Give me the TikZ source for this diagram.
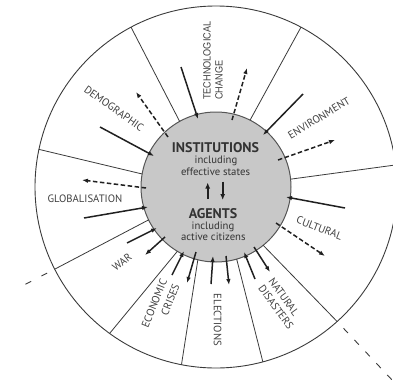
\documentclass[tikz,border=0pt]{standalone}
\usepackage{fontspec}
\setmainfont{PT Sans}
\newfontfamily\helvnarrow[FakeStretch=0.87]{Liberation Sans}
\usetikzlibrary{arrows.meta}
\definecolor{linegray}{HTML}{3A3A3A}
\definecolor{arrowgray}{HTML}{202020}
\definecolor{coregray}{HTML}{C8C8C8}
\definecolor{coreedge}{HTML}{555555}
\definecolor{labelgray}{HTML}{404040}
\definecolor{textgray}{HTML}{333333}
\begin{document}
\begin{tikzpicture}[x=1pt,y=1pt,
  ring/.style={circle, draw=linegray, line width=0.9pt, inner sep=0pt, outer sep=0pt},
  spoke/.style={draw=linegray, line width=0.8pt},
  inarrow/.style={draw=arrowgray, line width=1.5pt, -{Latex[length=6pt,width=4.5pt]}},
  outarrow/.style={inarrow, dash pattern=on 4.5pt off 2.5pt},
  midarrow/.style={draw=arrowgray, line width=2.2pt, -{Latex[length=6pt,width=5pt]}},
  extline/.style={draw=linegray, line width=0.9pt},
  label/.style={font=\fontsize{10.7}{12.5}\selectfont, text=labelgray, inner sep=0pt},
  techlabel/.style={font=\helvnarrow\fontsize{10.5}{12}\selectfont, text=labelgray, inner sep=0pt},
  headline/.style={font=\bfseries\fontsize{14}{16}\selectfont, text=textgray, inner sep=0pt, anchor=base},
  subline/.style={font=\fontsize{10.7}{12}\selectfont, text=textgray, inner sep=0pt, anchor=base}]
\useasboundingbox (0,0) rectangle (393,-380);
\clip (0,0) rectangle (393,-380);

% rings
\coordinate (c) at (216,-187);
\node[ring, minimum size=362pt] (outer) at (c) {};
\node[ring, fill=coregray, draw=coreedge, line width=1pt, minimum size=150pt] (core) at (c) {};

% dividing spokes
\foreach \a/\b in {119/118, 63/62, 6/7, -51/-48, -74/-75, -104/-101, -121/-126, -154/-153, 170/168}
  \draw[spoke] (core.\a) -- (outer.\b);

% dashed continuations outside the ring
\coordinate (ext4) at (393,-381);
\coordinate (ext8) at (24,-285);
\draw[extline, dash pattern=on 6.5pt off 9.5pt, dash phase=6.7pt] (outer.-48) -- (ext4);
\draw[extline, dash pattern=on 6.3pt off 11.7pt, dash phase=9.4pt] (outer.-153) -- (ext8);

% arrow end points
\foreach \n/\x/\y in {tA/181/67, tB/198/119, tC/232/120, tD/247/68,
                      eA/303/94, eB/263/135, eC/278/160, eD/335/140,
                      cA/345/208, cB/286/197, cC/276/223, cD/325/256,
                      nA/255/279, nB/244/252, nC/254/247, nD/270/272,
                      lA/211/284, lB/213/256, lC/226/256, lD/229/285,
                      kA/172/275, kB/184/251, kC/196/252, kD/187/283,
                      wA/127/243, wB/157/228, wC/165/237, wD/145/255,
                      gA/84/218, gB/148/207, gC/146/188, gD/82/180,
                      dA/100/127, dB/154/156, dC/168/137, dD/136/92}
  \coordinate (\n) at (\x,-\y);

% influences on the core and responses from it
\draw[inarrow] (tA) -- (tB);
\draw[outarrow] (tC) -- (tD);
\draw[inarrow] (eA) -- (eB);
\draw[outarrow] (eC) -- (eD);
\draw[inarrow] (cA) -- (cB);
\draw[outarrow] (cC) -- (cD);
\draw[inarrow] (nA) -- (nB);
\draw[inarrow] (nC) -- (nD);
\draw[inarrow] (lA) -- (lB);
\draw[inarrow] (lC) -- (lD);
\draw[inarrow] (kA) -- (kB);
\draw[inarrow] (kC) -- (kD);
\draw[inarrow] (wA) -- (wB);
\draw[inarrow] (wC) -- (wD);
\draw[inarrow] (gA) -- (gB);
\draw[outarrow] (gC) -- (gD);
\draw[inarrow] (dA) -- (dB);
\draw[outarrow] (dC) -- (dD);

% core texts
\node[headline] (inst) at (215.5,-152) {INSTITUTIONS};
\node[subline] (inst1) at (216,-163.5) {including};
\node[subline] (inst2) at (215.5,-175.5) {effective states};
\node[headline] (agents) at (213,-218) {AGENTS};
\node[subline] (ag1) at (213,-229) {including};
\node[subline] (ag2) at (213.3,-240.5) {active citizens};

% two-way link between institutions and agents
\coordinate (uA) at (207.7,-199);
\coordinate (uB) at (207.7,-182.5);
\coordinate (vA) at (222.7,-181.7);
\coordinate (vB) at (222.7,-200);
\draw[midarrow] (uA) -- (uB);
\draw[midarrow] (vA) -- (vB);

% sector labels
\node[techlabel, rotate=90, anchor=west, align=left] (tech) at (213,-100) {TECHNOLOGICAL\\CHANGE};
\node[label, rotate=31] (env) at (319,-118) {ENVIRONMENT};
\node[label, rotate=-21] (cult) at (319.5,-228) {CULTURAL};
\node[label, rotate=-54, anchor=west, align=left] (nat) at (265.9,-282.6) {NATURAL\\DISASTERS};
\node[label, rotate=-90] (elec) at (217.5,-320) {ELECTIONS};
\node[label, font=\fontsize{10.7}{13.5}\selectfont, rotate=68, anchor=east, align=right] (econ) at (170.2,-282) {ECONOMIC\\CRISES};
\node[label, rotate=38] (war) at (122,-262) {WAR};
\node[label] (glob) at (85,-199) {GLOBALISATION};
\node[label, rotate=-35] (demo) at (114,-108.5) {DEMOGRAPHIC};
\end{tikzpicture}
\end{document}
